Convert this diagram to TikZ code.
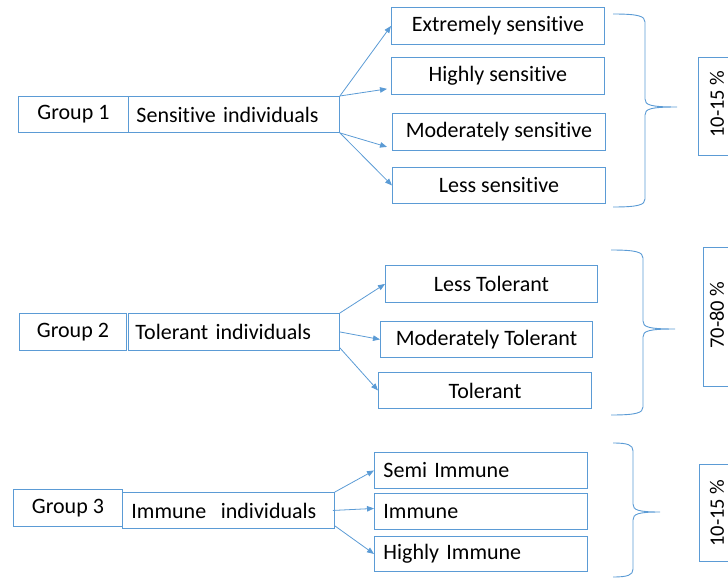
\documentclass[tikz,border=0pt]{standalone}
\usepackage{fontspec}
\setmainfont{Carlito}[Ligatures=NoCommon]
\usetikzlibrary{arrows.meta,calc}
\definecolor{bl}{RGB}{91,155,213}
\begin{document}
\begin{tikzpicture}[x=1pt,y=-1pt,
  cbox/.style={draw=bl, line width=0.9pt, inner xsep=0pt, inner ysep=0pt, anchor=north west,
    font=\fontsize{22}{26}\selectfont, align=center},
  lbox/.style={cbox, align=left, inner xsep=8pt},
  pbox/.style={draw=bl, line width=0.9pt, inner sep=0pt, minimum width=40pt},
  ptext/.style={inner sep=0pt, rotate=90, font=\fontsize{20.5}{24}\selectfont},
  conn/.style={draw=bl, line width=0.8pt, -{Triangle[length=7pt,width=5.5pt]}},
  brace/.style={draw=bl, line width=0.9pt}]
\useasboundingbox (0,0) rectangle (728,580);
\clip (0,0) rectangle (728,580);

% ---------- Group 1 ----------
\node[cbox, minimum width=110pt, minimum height=36pt] (g1l) at (18,96) {Group 1};
\node[lbox, minimum width=211pt, text width=195pt, minimum height=36pt] (g1r) at (128,96) {Sensitive individuals};
\node[cbox, minimum width=213pt, minimum height=37pt] (es) at (391,7) {Extremely sensitive};
\node[cbox, minimum width=213pt, minimum height=37pt] (hs) at (391,57) {Highly sensitive};
\node[cbox, minimum width=213pt, minimum height=37pt] (ms) at (392,113) {Moderately sensitive};
\node[cbox, minimum width=213pt, minimum height=36pt] (ls) at (392,167) {Less sensitive};
\draw[conn] (g1r.north east) -- (es.west);
\draw[conn] (g1r.north east) -- ($(hs.south west)+(-4,-6)$);
\draw[conn] (g1r.south east) -- ($(ms.south west)+(-5,-4)$);
\draw[conn] (g1r.south east) -- (ls.west);
\draw[brace] (613,14) .. controls (638,14) and (645,16) .. (645,22) -- (645,99)
  .. controls (645,105) and (650,107) .. (677,107)
  .. controls (650,107) and (645,109) .. (645,115) -- (645,199)
  .. controls (645,205) and (638,207) .. (613,207);
\node[pbox, minimum height=98pt] (p1) at (718,106) {};
\node[ptext] (t1) at (717,104) {10-15 \%};

% ---------- Group 2 ----------
\node[cbox, minimum width=107pt, minimum height=37pt] (g2l) at (19,313) {Group 2};
\node[lbox, minimum width=211pt, text width=197pt, inner xsep=7pt, minimum height=37pt] (g2r) at (128,313) {Tolerant individuals};
\node[cbox, minimum width=212pt, minimum height=37pt] (lt) at (385,265) {Less Tolerant};
\node[cbox, minimum width=212pt, minimum height=36pt] (mt) at (380,321) {Moderately Tolerant};
\node[cbox, minimum width=213pt, minimum height=36pt] (tt) at (378,372) {Tolerant};
\draw[conn] (g2r.north east) -- (lt.west);
\draw[conn] (g2r.east) -- (mt.west);
\draw[conn] ($(g2r.south east)+(0,-3)$) -- (tt.west);
\draw[brace] (611,250) .. controls (636,250) and (643,252) .. (643,258) -- (643,321)
  .. controls (643,327) and (648,329) .. (675,329)
  .. controls (648,329) and (643,331) .. (643,337) -- (643,407)
  .. controls (643,413) and (636,415) .. (611,415);
\node[pbox, minimum height=139pt] (p2) at (723,316.5) {};
\node[ptext] (t2) at (717,315) {70-80 \%};

% ---------- Group 3 ----------
\node[cbox, minimum width=109pt, minimum height=37pt] (g3l) at (13,489) {Group 3};
\node[lbox, minimum width=212pt, text width=194pt, inner xsep=9pt, minimum height=36pt] (g3r) at (122,492) {Immune\ \ individuals};
\node[lbox, minimum width=213pt, text width=195pt, inner xsep=9pt, minimum height=36pt] (si) at (374,452) {Semi Immune};
\node[lbox, minimum width=213pt, text width=195pt, inner xsep=9pt, minimum height=36pt] (im) at (374,493) {Immune};
\node[lbox, minimum width=213pt, text width=195pt, inner xsep=9pt, minimum height=35pt] (hi) at (374,536) {Highly Immune};
\draw[conn] (g3r.north east) -- (si.west);
\draw[conn] ($(g3r.east)+(-2,0)$) -- ($(im.west)+(0,-3)$);
\draw[conn] ($(g3r.south east)+(0,-3)$) -- (hi.west);
\draw[brace] (613,443) .. controls (628,443) and (633,445) .. (633,451) -- (633,504)
  .. controls (633,510) and (638,512) .. (660,512)
  .. controls (638,512) and (633,514) .. (633,520) -- (633,569)
  .. controls (633,575) and (628,577) .. (613,577);
\node[pbox, minimum height=97pt] (p3) at (719,512.5) {};
\node[ptext] (t3) at (717,513) {10-15 \%};
\end{tikzpicture}
\end{document}
